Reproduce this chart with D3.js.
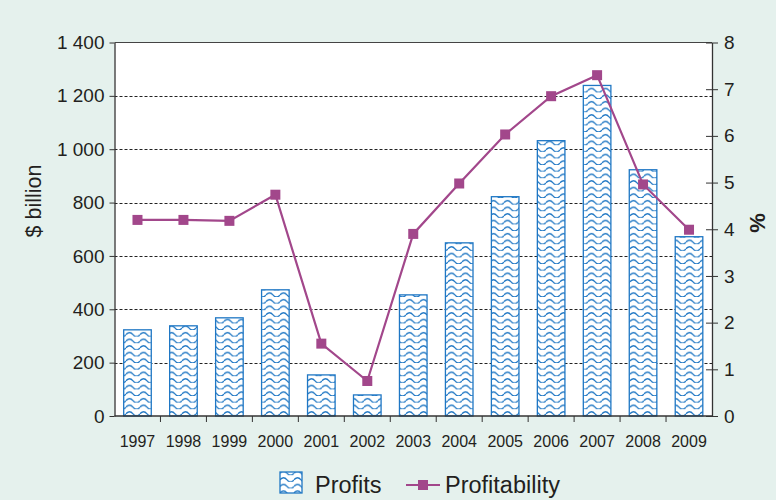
<!DOCTYPE html>
<html>
<head>
<meta charset="utf-8">
<script src="https://cdn.jsdelivr.net/npm/d3@7"></script>
<style>
  html, body { margin: 0; padding: 0; background: #e5f1ed; }
  svg { display: block; font-family: "Liberation Sans", Arial, sans-serif; }
</style>
</head>
<body>
<svg id="chart" width="776" height="500"></svg>
<script>
// ── Data ──────────────────────────────────────────────────────────────────────
const years         = ['1997','1998','1999','2000','2001','2002','2003','2004','2005','2006','2007','2008','2009'];
const profits       = [323, 338, 368, 473, 154, 79, 454, 649, 822, 1032, 1239, 923, 672];   // $ billion
const profitability = [4.2, 4.2, 4.18, 4.74, 1.55, 0.75, 3.9, 4.98, 6.03, 6.85, 7.3, 4.96, 3.99]; // %
const leftTicks     = [0, 200, 400, 600, 800, 1000, 1200, 1400];
const rightTicks    = [0, 1, 2, 3, 4, 5, 6, 7, 8];

const BAR_BLUE  = '#1f77c4';
const LINE_PURP = '#a2478b';
const INK       = '#231f20';

// ── Layout ────────────────────────────────────────────────────────────────────
const svg = d3.select('#chart');
const m = { left: 114.5, right: 712, top: 42.5, bottom: 416 };

const x  = d3.scaleBand().domain(years).range([m.left, m.right]).paddingInner(0.4).paddingOuter(0.2);
const yL = d3.scaleLinear().domain([0, 1400]).range([m.bottom, m.top]);
const yR = d3.scaleLinear().domain([0, 8]).range([m.bottom, m.top]);

// Plot background
svg.append('rect')
  .attr('x', m.left).attr('y', m.top)
  .attr('width', m.right - m.left).attr('height', m.bottom - m.top)
  .attr('fill', '#fff');

// Wavy pattern for bars
const defs = svg.append('defs');
const pat = defs.append('pattern')
  .attr('id', 'wave')
  .attr('patternUnits', 'userSpaceOnUse')
  .attr('width', 14).attr('height', 6.6);
pat.append('rect').attr('width', 14).attr('height', 6.6).attr('fill', '#fff');
pat.append('path')
  .attr('d', 'M0,4.6 Q3.5,0.6 7,4.6 T14,4.6')
  .attr('fill', 'none')
  .attr('stroke', BAR_BLUE)
  .attr('stroke-width', 1.3);

// Gridlines
svg.append('g')
  .selectAll('line')
  .data(leftTicks.filter(t => t > 0 && t < 1400))
  .enter().append('line')
  .attr('x1', m.left).attr('x2', m.right)
  .attr('y1', d => Math.round(yL(d)) + 0.5).attr('y2', d => Math.round(yL(d)) + 0.5)
  .attr('stroke', '#222').attr('stroke-width', 1)
  .attr('stroke-dasharray', '3,2');

// Top border
svg.append('line')
  .attr('x1', m.left).attr('x2', m.right)
  .attr('y1', m.top).attr('y2', m.top)
  .attr('stroke', '#444').attr('stroke-width', 1);

// Bars
svg.append('g')
  .selectAll('rect')
  .data(years.map((y, i) => ({ year: y, v: profits[i] })))
  .enter().append('rect')
  .attr('x', d => x(d.year))
  .attr('y', d => yL(d.v))
  .attr('width', x.bandwidth())
  .attr('height', d => yL(0) - yL(d.v))
  .attr('fill', 'url(#wave)')
  .attr('stroke', BAR_BLUE)
  .attr('stroke-width', 1.3);

// ── Axes ──────────────────────────────────────────────────────────────────────
const axisStyle = g => {
  g.selectAll('.domain').attr('stroke', '#333').attr('stroke-width', 1.3);
  g.selectAll('.tick line').attr('stroke', '#333').attr('stroke-width', 1);
  g.selectAll('.tick text').attr('fill', INK);
};

svg.append('g')
  .attr('transform', `translate(${m.left},0)`)
  .call(d3.axisLeft(yL).tickValues(leftTicks).tickSize(5).tickPadding(5).tickSizeOuter(0)
    .tickFormat(d => d3.format(',')(d).replace(',', ' ')))
  .call(axisStyle)
  .call(g => g.selectAll('.tick text').attr('font-size', 19));

svg.append('g')
  .attr('transform', `translate(${m.right},0)`)
  .call(d3.axisRight(yR).tickValues(rightTicks).tickSize(6).tickPadding(6).tickSizeOuter(0))
  .call(axisStyle)
  .call(g => g.selectAll('.tick line').attr('x1', -6))
  .call(g => g.selectAll('.tick text').attr('font-size', 19));

// Bottom axis: ticks between bands
const xAxis = svg.append('g').attr('transform', `translate(0,${m.bottom})`);
xAxis.append('line')
  .attr('x1', m.left).attr('x2', m.right)
  .attr('stroke', '#333').attr('stroke-width', 1.3);
const step = x.step();
xAxis.selectAll('line.tk')
  .data(years.slice(1))
  .enter().append('line')
  .attr('class', 'tk')
  .attr('x1', d => x(d) - step * x.paddingInner() / 2)
  .attr('x2', d => x(d) - step * x.paddingInner() / 2)
  .attr('y1', 0).attr('y2', 6)
  .attr('stroke', '#333');
xAxis.selectAll('text')
  .data(years)
  .enter().append('text')
  .attr('x', d => x(d) + x.bandwidth() / 2)
  .attr('y', 31)
  .attr('text-anchor', 'middle')
  .attr('font-size', 16)
  .attr('fill', INK)
  .text(d => d);

// Axis titles
svg.append('text')
  .attr('transform', 'translate(41,201) rotate(-90)')
  .attr('text-anchor', 'middle')
  .attr('font-size', 21.5)
  .attr('fill', INK)
  .text('$ billion');
svg.append('text')
  .attr('transform', 'translate(765,223) rotate(-90)')
  .attr('text-anchor', 'middle')
  .attr('font-size', 22)
  .attr('font-weight', 'bold')
  .attr('fill', INK)
  .text('%');

// ── Profitability line ────────────────────────────────────────────────────────
const pts = years.map((y, i) => ({ year: y, v: profitability[i] }));
const line = d3.line()
  .x(d => x(d.year) + x.bandwidth() / 2)
  .y(d => yR(d.v));

svg.append('path')
  .datum(pts)
  .attr('d', line)
  .attr('fill', 'none')
  .attr('stroke', LINE_PURP)
  .attr('stroke-width', 2.2);

svg.append('g')
  .selectAll('rect')
  .data(pts)
  .enter().append('rect')
  .attr('x', d => x(d.year) + x.bandwidth() / 2 - 5)
  .attr('y', d => yR(d.v) - 5)
  .attr('width', 10).attr('height', 10)
  .attr('fill', LINE_PURP);

// ── Legend ────────────────────────────────────────────────────────────────────
const lg = svg.append('g');
lg.append('rect')
  .attr('x', 280).attr('y', 472).attr('width', 22).attr('height', 21)
  .attr('fill', 'url(#wave)')
  .attr('stroke', BAR_BLUE).attr('stroke-width', 1.3);
lg.append('text')
  .attr('x', 315).attr('y', 493)
  .attr('font-size', 23.5).attr('fill', INK)
  .text('Profits');
lg.append('line')
  .attr('x1', 406).attr('x2', 440).attr('y1', 485).attr('y2', 485)
  .attr('stroke', LINE_PURP).attr('stroke-width', 2.2);
lg.append('rect')
  .attr('x', 418).attr('y', 480).attr('width', 10).attr('height', 10)
  .attr('fill', LINE_PURP);
lg.append('text')
  .attr('x', 445).attr('y', 493)
  .attr('font-size', 23.5).attr('fill', INK)
  .text('Profitability');
</script>
</body>
</html>
